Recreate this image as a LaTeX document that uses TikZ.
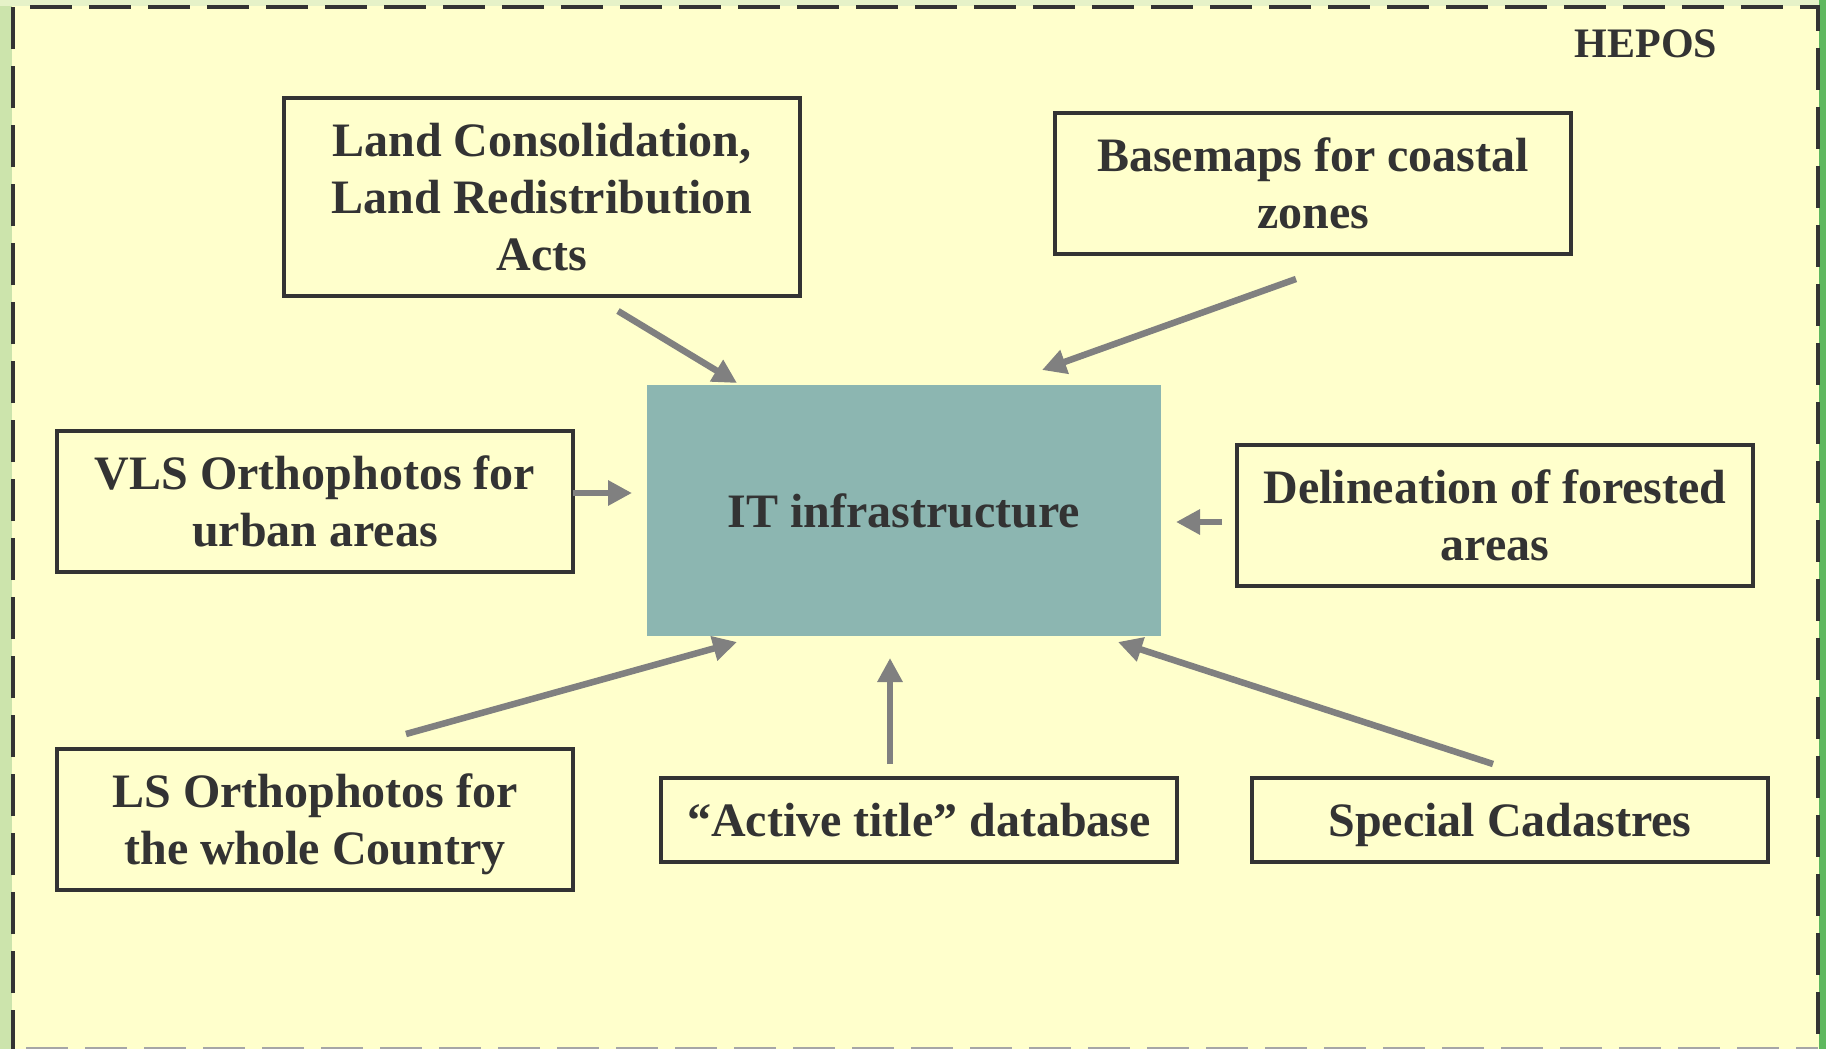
\documentclass[tikz,border=0pt]{standalone}
\usepackage{fontspec}
\setmainfont{Liberation Serif}
\usetikzlibrary{arrows.meta}
\definecolor{bgyellow}{HTML}{FFFFCC}
\definecolor{bgleft}{HTML}{CCE4AC}
\definecolor{bgright}{HTML}{5FB85F}
\definecolor{bgtop}{HTML}{E6F2C8}
\definecolor{ink}{HTML}{333333}
\definecolor{itfill}{HTML}{8CB6B1}
\definecolor{arrowgray}{HTML}{808080}
\tikzset{
  box/.style={draw=ink, line width=4pt, fill=none, text=ink, align=center,
    font=\bfseries\fontsize{48}{57}\selectfont, inner sep=0pt, text depth=-3pt},
  itbox/.style={fill=itfill, draw=none, text=ink, align=center,
    font=\bfseries\fontsize{48}{57}\selectfont, inner sep=0pt},
  feed/.style={draw=arrowgray, line width=6.5pt, -{Triangle[length=24pt,width=24pt]}},
}
\begin{document}
\begin{tikzpicture}[x=1pt,y=-1pt]
\useasboundingbox (0,0) rectangle (1826,1049);
\fill[bgleft] (0,0) rectangle (1826,1049);
\fill[bgtop] (0,0) rectangle (1826,6);
\fill[bgright] (1819,0) rectangle (1826,1049);
\fill[bgyellow] (12,6) rectangle (1819,1049);
\draw[ink, line width=4pt, dash pattern=on 42pt off 17pt] (13,1052) -- (13,7) -- (1818,7) -- (1818,1052);
\draw[black!35, line width=1.5pt, dash pattern=on 42pt off 17pt] (26,1048) -- (1818,1048);

\node[text=ink, font=\bfseries\fontsize{42}{50}\selectfont, anchor=center] (hepos) at (1646,44) {HEPOS};

\node[itbox, minimum width=514pt, minimum height=251pt] (it) at (904,510.5) {IT infrastructure};

\node[box, minimum width=516pt, minimum height=198pt] (land) at (542,197) {Land Consolidation,\\Land Redistribution\\Acts};
\node[box, minimum width=516pt, minimum height=141pt] (base) at (1313,183.5) {Basemaps for coastal\\zones};
\node[box, minimum width=516pt, minimum height=141pt] (vls) at (315,501.5) {VLS Orthophotos for\\urban areas};
\node[box, minimum width=516pt, minimum height=141pt] (deli) at (1495,515.5) {Delineation of forested\\areas};
\node[box, minimum width=516pt, minimum height=141pt] (ls) at (315,819.5) {LS Orthophotos for\\the whole Country};
\node[box, minimum width=516pt, minimum height=84pt] (act) at (919,820) {``Active title'' database};
\node[box, minimum width=516pt, minimum height=84pt] (spec) at (1510,820) {Special Cadastres};

\coordinate (a1s) at (618,311); \coordinate (a1e) at (737,383);
\coordinate (a2s) at (1296,279); \coordinate (a2e) at (1042,370);
\coordinate (a3s) at (573,493); \coordinate (a3e) at (632,493);
\coordinate (a4s) at (1222,522); \coordinate (a4e) at (1176,522);
\coordinate (a5s) at (406,734); \coordinate (a5e) at (737,642);
\coordinate (a6s) at (890,764); \coordinate (a6e) at (890,658);
\coordinate (a7s) at (1493,764); \coordinate (a7e) at (1118,642);
\draw[feed] (a1s) -- (a1e);
\draw[feed] (a2s) -- (a2e);
\draw[feed] (a3s) -- (a3e);
\draw[feed] (a4s) -- (a4e);
\draw[feed] (a5s) -- (a5e);
\draw[feed] (a6s) -- (a6e);
\draw[feed] (a7s) -- (a7e);
\end{tikzpicture}
\end{document}
